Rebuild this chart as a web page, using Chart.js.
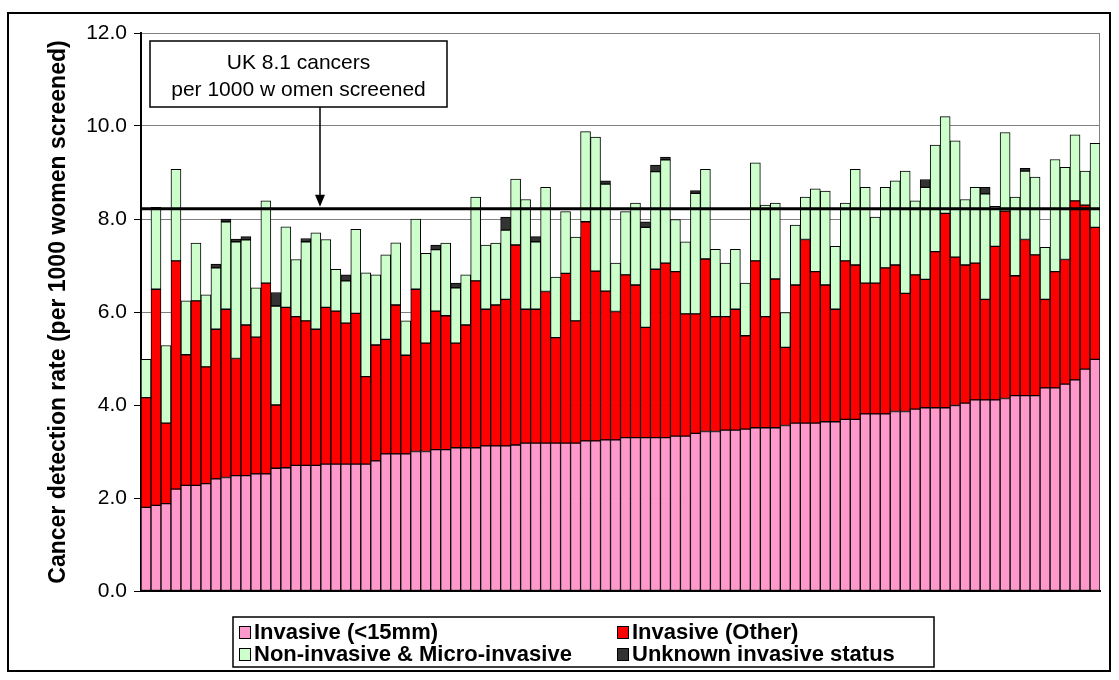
<!DOCTYPE html>
<html>
<head>
<meta charset="utf-8">
<title>Cancer detection rate by screening unit</title>
<script src="https://cdn.jsdelivr.net/npm/chart.js@4.4.1/dist/chart.umd.min.js"></script>
<style>
  body { margin: 0; background: #fff; }
  canvas { display: block; }
</style>
</head>
<body>
<canvas id="detectionChart" width="1119" height="680"></canvas>
<script>
  // one bar per screening unit, sorted by the invasive (<15mm) rate
  const invasiveSmall = [
    1.80, 1.84, 1.88, 2.19, 2.27, 2.27, 2.31, 2.41, 2.44, 2.48,
    2.48, 2.52, 2.52, 2.64, 2.65, 2.70, 2.70, 2.70, 2.73, 2.73,
    2.73, 2.73, 2.73, 2.80, 2.95, 2.95, 2.95, 3.00, 3.00, 3.04,
    3.04, 3.08, 3.08, 3.08, 3.12, 3.12, 3.12, 3.14, 3.18, 3.18,
    3.18, 3.18, 3.18, 3.18, 3.23, 3.23, 3.25, 3.25, 3.30, 3.30,
    3.30, 3.30, 3.30, 3.33, 3.33, 3.39, 3.43, 3.43, 3.46, 3.46,
    3.48, 3.51, 3.51, 3.51, 3.56, 3.61, 3.61, 3.61, 3.64, 3.64,
    3.69, 3.69, 3.81, 3.81, 3.81, 3.86, 3.86, 3.91, 3.94, 3.94,
    3.94, 3.99, 4.04, 4.11, 4.11, 4.11, 4.14, 4.20, 4.20, 4.20,
    4.37, 4.37, 4.45, 4.54, 4.77, 4.98
  ];
  const invasiveOther = [
    2.36, 4.65, 1.73, 4.91, 2.81, 3.97, 2.51, 3.22, 3.62, 2.52,
    3.24, 2.94, 4.10, 1.36, 3.45, 3.20, 3.11, 2.93, 3.37, 3.29,
    3.03, 3.24, 1.88, 2.49, 2.46, 3.20, 2.12, 3.49, 2.33, 2.98,
    2.88, 2.25, 2.64, 3.59, 2.94, 3.03, 3.15, 4.30, 2.88, 2.88,
    3.26, 2.27, 3.65, 2.63, 4.71, 3.65, 3.20, 2.76, 3.50, 3.28,
    2.37, 3.62, 3.75, 3.54, 2.63, 2.57, 3.71, 2.47, 2.44, 2.60,
    2.01, 3.59, 2.39, 3.20, 1.68, 2.97, 3.95, 3.26, 2.94, 2.42,
    3.41, 3.32, 2.81, 2.81, 3.14, 3.15, 2.54, 2.89, 2.76, 3.36,
    4.18, 3.19, 2.97, 2.94, 2.16, 3.30, 4.03, 2.58, 3.36, 3.03,
    1.90, 2.50, 2.68, 3.85, 3.53, 2.84
  ];
  const nonInvasive = [
    0.82, 1.76, 1.67, 1.97, 1.16, 1.24, 1.55, 1.32, 1.88, 2.51,
    1.83, 1.06, 1.77, 2.13, 1.73, 1.23, 1.70, 2.07, 1.46, 0.90,
    0.91, 1.81, 2.23, 1.51, 1.82, 1.34, 0.74, 1.51, 1.93, 1.32,
    1.56, 1.19, 1.08, 1.80, 1.38, 1.33, 1.49, 1.42, 2.36, 1.45,
    2.24, 1.30, 1.33, 1.80, 1.94, 2.88, 2.30, 1.04, 1.36, 1.76,
    2.15, 2.10, 2.22, 1.12, 1.55, 2.59, 1.93, 1.45, 1.15, 1.29,
    1.13, 2.11, 2.40, 1.63, 0.75, 1.29, 0.91, 1.78, 2.02, 1.35,
    1.24, 2.06, 2.06, 1.42, 1.73, 1.81, 2.63, 1.59, 1.98, 2.29,
    2.08, 2.50, 1.41, 1.63, 2.27, 0.86, 1.69, 1.69, 1.47, 1.67,
    1.12, 2.41, 1.98, 1.42, 0.73, 1.81
  ];
  const unknownStatus = [
    0, 0, 0, 0, 0, 0, 0, 0.08, 0.06, 0.06,
    0.07, 0, 0, 0.29, 0, 0, 0.07, 0, 0, 0,
    0.13, 0, 0, 0, 0, 0, 0, 0, 0, 0.10,
    0, 0.10, 0, 0, 0, 0, 0.28, 0, 0, 0.11,
    0, 0, 0, 0, 0, 0, 0.07, 0, 0, 0,
    0.12, 0.14, 0.06, 0, 0, 0.06, 0, 0, 0, 0,
    0, 0, 0, 0, 0, 0, 0, 0, 0, 0,
    0, 0, 0, 0, 0, 0, 0, 0, 0.17, 0,
    0, 0, 0, 0, 0.14, 0, 0, 0, 0.06, 0,
    0, 0, 0, 0, 0, 0
  ];
  const units = invasiveSmall.map((v, i) => "Unit " + (i + 1));

  const yMin = 0;
  const yMax = 12;
  const yStep = 2;
  const ukLineLevel = 8.22;
  const ukNote = ["UK 8.1 cancers", "per 1000 w omen screened"];

  const FONT = "'Liberation Sans', Arial, sans-serif";

  // 0 means no segment at all
  const seg = (arr) => arr.map((v) => (v > 0 ? v : null));

  // white page, grey plot frame, outer border, UK line with note, legend
  const decorations = {
    id: "decorations",
    beforeDraw(chart) {
      const { ctx, chartArea: a } = chart;
      ctx.save();
      ctx.fillStyle = "#fff";
      ctx.fillRect(0, 0, chart.width, chart.height);
      ctx.strokeStyle = "#808080";
      ctx.lineWidth = 1;
      ctx.strokeRect(a.left, a.top + 0.5, a.right - a.left - 0.5, a.bottom - a.top);
      ctx.restore();
    },
    afterDatasetsDraw(chart) {
      const { ctx, chartArea: a } = chart;
      const y = chart.scales.y.getPixelForValue(ukLineLevel);
      ctx.save();
      ctx.strokeStyle = "#000";
      ctx.lineWidth = 3;
      ctx.beginPath();
      ctx.moveTo(a.left, y);
      ctx.lineTo(a.right, y);
      ctx.stroke();

      // note box + arrow
      const bx = a.left + 9, by = a.top + 8, bw = 297, bh = 66;
      const ax = a.left + 179;
      ctx.lineWidth = 1.5;
      ctx.beginPath();
      ctx.moveTo(ax, by + bh);
      ctx.lineTo(ax, y - 12);
      ctx.stroke();
      ctx.fillStyle = "#000";
      ctx.beginPath();
      ctx.moveTo(ax - 5, y - 14);
      ctx.lineTo(ax + 5, y - 14);
      ctx.lineTo(ax, y - 2);
      ctx.closePath();
      ctx.fill();

      ctx.fillStyle = "#fff";
      ctx.fillRect(bx, by, bw, bh);
      ctx.strokeRect(bx, by, bw, bh);
      ctx.fillStyle = "#000";
      ctx.font = "21px " + FONT;
      ctx.textAlign = "center";
      ctx.textBaseline = "middle";
      ctx.fillText(ukNote[0], bx + bw / 2, by + 22);
      ctx.fillText(ukNote[1], bx + bw / 2, by + 49);
      ctx.restore();
    },
    afterDraw(chart) {
      const { ctx } = chart;
      ctx.save();
      ctx.strokeStyle = "#000";
      ctx.lineWidth = 2;
      ctx.strokeRect(8, 13, 1102, 658);

      // legend, 2 x 2 grid
      const lx = 233, ly = 617, lw = 701, lh = 50;
      ctx.lineWidth = 1.5;
      ctx.fillStyle = "#fff";
      ctx.fillRect(lx, ly, lw, lh);
      ctx.strokeRect(lx, ly, lw, lh);
      const cols = [lx + 6, lx + 384];
      const rows = [ly + 15, ly + 37];
      ctx.font = "bold 22px " + FONT;
      ctx.textBaseline = "middle";
      ctx.textAlign = "left";
      chart.data.datasets.forEach((ds, i) => {
        const x = cols[i % 2], yy = rows[Math.floor(i / 2)];
        ctx.fillStyle = ds.backgroundColor;
        ctx.fillRect(x, yy - 6, 11, 12);
        ctx.lineWidth = 1;
        ctx.strokeRect(x + 0.5, yy - 5.5, 11, 12);
        ctx.fillStyle = "#000";
        ctx.fillText(ds.label, x + 15, yy + 1);
      });
      ctx.restore();
    }
  };

  window.addEventListener("load", () => {
    const ctx = document.getElementById("detectionChart");
    const barStyle = { borderColor: "#000", borderWidth: 1, borderSkipped: false,
      barPercentage: 1, categoryPercentage: 1 };

    new Chart(ctx, {
      type: "bar",
      data: {
        labels: units,
        datasets: [
          { label: "Invasive (<15mm)", data: seg(invasiveSmall), backgroundColor: "#FF99CC", ...barStyle },
          { label: "Invasive (Other)", data: seg(invasiveOther), backgroundColor: "#FF0000", ...barStyle },
          { label: "Non-invasive & Micro-invasive", data: seg(nonInvasive), backgroundColor: "#CCFFCC", ...barStyle },
          { label: "Unknown invasive status", data: seg(unknownStatus), backgroundColor: "#333333", ...barStyle }
        ]
      },
      options: {
        responsive: false,
        animation: false,
        layout: { padding: { left: 0, right: 19, top: 33, bottom: 89 } },
        plugins: { legend: { display: false }, tooltip: { enabled: false } },
        scales: {
          x: {
            stacked: true,
            grid: { display: false, drawTicks: false },
            ticks: { display: false },
            border: { color: "#000", width: 2 },
            afterFit: (s) => { s.height = 0; }
          },
          y: {
            stacked: true,
            min: yMin,
            max: yMax,
            ticks: {
              stepSize: yStep,
              padding: 7,
              color: "#000",
              font: { family: FONT, size: 21 },
              callback: (v) => v.toFixed(1)
            },
            grid: { color: "#808080", tickColor: "#000", tickLength: 7, lineWidth: 1 },
            border: { color: "#000", width: 2 },
            title: {
              display: true,
              text: "Cancer detection rate (per 1000 women screened)",
              color: "#000",
              font: { family: FONT, size: 23, weight: "bold" },
              padding: { top: 45, bottom: 0 }
            },
            afterFit: (s) => { s.width = 141; }
          }
        }
      },
      plugins: [decorations]
    });
  });
</script>
</body>
</html>
